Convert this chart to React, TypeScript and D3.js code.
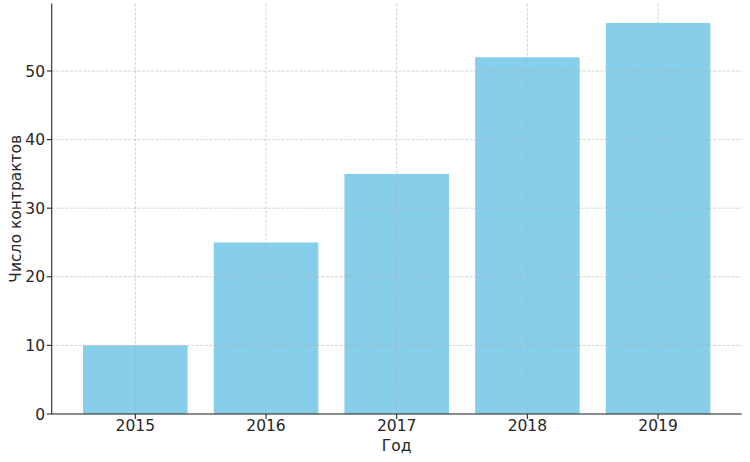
import React from "react";
import * as d3 from "d3";

const years = ["2015", "2016", "2017", "2018", "2019"];
const contracts = [10, 25, 35, 52, 57];
const yTicks = [0, 10, 20, 30, 40, 50];

const W = 750;
const H = 462;
const left = 51.7;
const right = 741.7;
const top = 3.4;
const bottom = 414;
const font = "DejaVu Sans, sans-serif";
const textColor = "#262626";
const fs = 15.5;

export default function App() {
  const x = d3.scaleLinear().domain([-0.64, 4.64]).range([left, right]);
  const y = d3.scaleLinear().domain([0, 59.85]).range([bottom, top]);
  const bw = x(0.4) - x(-0.4);
  return (
    <svg width={W} height={H} style={{ position: "absolute", left: 0, top: 0 }}>
      <rect width={W} height={H} fill="#fff" />
      {contracts.map((v, i) => (
        <rect key={i} x={x(i) - bw / 2} y={y(v)} width={bw} height={y(0) - y(v)} fill="#87CEEB" />
      ))}
      {years.map((_, i) => (
        <line key={"gx" + i} x1={x(i)} x2={x(i)} y1={top} y2={bottom} stroke="#b0b0b0" strokeOpacity={0.7} strokeWidth={0.8} strokeDasharray="3,1.5" />
      ))}
      {yTicks.map((t) => (
        <line key={"gy" + t} x1={left} x2={right} y1={y(t)} y2={y(t)} stroke="#b0b0b0" strokeOpacity={0.7} strokeWidth={0.8} strokeDasharray="3,1.5" />
      ))}
      <line x1={left} x2={left} y1={top} y2={bottom} stroke={textColor} strokeWidth={1.1} />
      <line x1={left} x2={right} y1={bottom} y2={bottom} stroke={textColor} strokeWidth={1.1} />
      {years.map((yr, i) => (
        <g key={"xt" + i}>
          <line x1={x(i)} x2={x(i)} y1={bottom} y2={bottom + 4.9} stroke={textColor} strokeWidth={1.1} />
          <text x={x(i)} y={430.7} textAnchor="middle" fontFamily={font} fontSize={fs} fill={textColor}>{yr}</text>
        </g>
      ))}
      {yTicks.map((t) => (
        <g key={"yt" + t}>
          <line x1={left - 4.9} x2={left} y1={y(t)} y2={y(t)} stroke={textColor} strokeWidth={1.1} />
          <text x={45} y={y(t) + 5.7} textAnchor="end" fontFamily={font} fontSize={fs} fill={textColor}>{t}</text>
        </g>
      ))}
      <text x={(left + right) / 2} y={450.7} textAnchor="middle" fontFamily={font} fontSize={fs} fill={textColor}>Год</text>
      <text transform={`translate(21, ${(top + bottom) / 2}) rotate(-90)`} textAnchor="middle" fontFamily={font} fontSize={fs} fill={textColor}>Число контрактов</text>
    </svg>
  );
}
